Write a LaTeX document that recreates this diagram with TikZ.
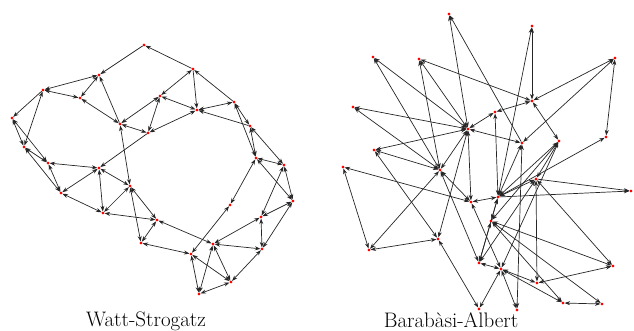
\documentclass[tikz,border=0pt]{standalone}
\usepackage{fontspec}
\usetikzlibrary{arrows.meta}
\begin{document}
\begin{tikzpicture}[x=1pt,y=-1pt,
  dot/.style={circle,fill=red,inner sep=0pt,minimum size=2.8pt},
  lnk/.style={draw=black!85,line width=0.7pt,{Stealth[length=5.5pt,width=4pt]}-{Stealth[length=5.5pt,width=4pt]}},
  one/.style={draw=black!85,line width=0.7pt,-{Stealth[length=5.5pt,width=4pt]}},
  captxt/.style={font=\fontsize{21}{25}\selectfont,inner sep=0pt,anchor=base}]
\useasboundingbox (0,0) rectangle (634,331);
% ---------- Watt-Strogatz nodes ----------
\foreach \n/\x/\y in {A/144/45,B/99/75,C/43/90,D/80/98,E/12/118,F/120/124,G/148/133,H/160/96,
  I/24/147,J/48/163,K/99/168,L/193/69,M/197/110,N/234/102,O/250/126,P/256/158,Q/284/165,
  R/61/193,S/130/186,T/103/213,U/157/220,V/141/243,W/293/201,X/230/205,Y/261/217,Z/213/244,
  AA/262/249,BB/191/254,CC/231/282,DD/199/294}
  {\node[dot] (w\n) at (\x,\y) {};}
% ---------- Barabasi-Albert nodes ----------
\foreach \n/\x/\y in {a/449/14,b/373/57,c/419/59,d/353/107,e/468/129,f/374/150,g/532/26,h/615/58,
  i/532/101,j/495/112,k/559/141,l/522/143,m/606/137,n/343/167,o/440/170,p/471/202,q/491/221,
  r/438/239,s/369/250,t/479/263,u/479/309,v/498/197,w/536/179,x/631/191,y/613/266,z/501/269,
  aa/537/283,bb/563/303,cc/602/304,dd/517/310}
  {\node[dot] (b\n) at (\x,\y) {};}
% ---------- WS edges ----------
\draw[one] (wA) -- (wB);
\draw[one] (wL) -- (wA);
\draw[lnk] (wB) -- (wC);
\draw[lnk] (wB) -- (wD);
\draw[one] (wF) -- (wB);
\draw[lnk] (wC) -- (wD);
\draw[one] (wC) -- (wE);
\draw[lnk] (wC) -- (wI);
\draw[lnk] (wD) -- (wF);
\draw[lnk] (wE) -- (wI);
\draw[lnk] (wE) -- (wJ);
\draw[lnk] (wI) -- (wJ);
\draw[lnk] (wI) -- (wR);
\draw[lnk] (wF) -- (wH);
\draw[lnk] (wF) -- (wG);
\draw[lnk] (wF) -- (wS);
\draw[lnk] (wG) -- (wH);
\draw[lnk] (wG) -- (wM);
\draw[one] (wG) -- (wK);
\draw[lnk] (wH) -- (wL);
\draw[lnk] (wH) -- (wM);
\draw[one] (wL) -- (wM);
\draw[one] (wN) -- (wL);
\draw[lnk] (wM) -- (wN);
\draw[one] (wO) -- (wM);
\draw[lnk] (wN) -- (wO);
\draw[lnk] (wN) -- (wP);
\draw[lnk] (wO) -- (wP);
\draw[lnk] (wO) -- (wQ);
\draw[lnk] (wP) -- (wQ);
\draw[lnk] (wP) -- (wW);
\draw[lnk] (wP) -- (wX);
\draw[lnk] (wQ) -- (wW);
\draw[lnk] (wQ) -- (wY);
\draw[lnk] (wW) -- (wY);
\draw[lnk] (wW) -- (wAA);
\draw[lnk] (wY) -- (wZ);
\draw[lnk] (wY) -- (wAA);
\draw[lnk] (wZ) -- (wAA);
\draw[lnk] (wZ) -- (wDD);
\draw[lnk] (wZ) -- (wCC);
\draw[lnk] (wU) -- (wZ);
\draw[lnk] (wAA) -- (wCC);
\draw[lnk] (wCC) -- (wDD);
\draw[lnk] (wBB) -- (wDD);
\draw[lnk] (wBB) -- (wCC);
\draw[lnk] (wV) -- (wBB);
\draw[lnk] (wX) -- (wBB);
\draw[lnk] (wJ) -- (wK);
\draw[lnk] (wJ) -- (wR);
\draw[lnk] (wK) -- (wR);
\draw[lnk] (wK) -- (wS);
\draw[lnk] (wK) -- (wT);
\draw[lnk] (wR) -- (wT);
\draw[lnk] (wS) -- (wT);
\draw[lnk] (wS) -- (wV);
\draw[lnk] (wS) -- (wU);
\draw[lnk] (wT) -- (wU);
\draw[lnk] (wU) -- (wV);
% ---------- BA edges ----------
\draw[lnk] (be) -- (ba);
\draw[one] (bl) -- (ba);
\draw[lnk] (be) -- (bb);
\draw[one] (bo) -- (bb);
\draw[lnk] (be) -- (bc);
\draw[lnk] (bc) -- (bi);
\draw[lnk] (bc) -- (bo);
\draw[lnk] (be) -- (bd);
\draw[lnk] (bd) -- (bo);
\draw[lnk] (be) -- (bf);
\draw[lnk] (bf) -- (bo);
\draw[lnk] (bf) -- (br);
\draw[lnk] (bg) -- (bi);
\draw[lnk] (bg) -- (bv);
\draw[lnk] (bh) -- (bi);
\draw[lnk] (bh) -- (bl);
\draw[lnk] (bh) -- (bm);
\draw[lnk] (bi) -- (bj);
\draw[lnk] (bi) -- (bk);
\draw[lnk] (be) -- (bj);
\draw[lnk] (bj) -- (bv);
\draw[lnk] (bk) -- (bv);
\draw[lnk] (bk) -- (bq);
\draw[lnk] (bk) -- (bz);
\draw[lnk] (bk) -- (bw);
\draw[lnk] (be) -- (bl);
\draw[lnk] (bl) -- (bdd);
\draw[lnk] (bl) -- (bv);
\draw[lnk] (bm) -- (bv);
\draw[lnk] (bn) -- (bp);
\draw[lnk] (bn) -- (bs);
\draw[lnk] (be) -- (bo);
\draw[lnk] (bs) -- (bo);
\draw[lnk] (bo) -- (bp);
\draw[lnk] (bo) -- (bt);
\draw[lnk] (be) -- (bp);
\draw[lnk] (bv) -- (bp);
\draw[lnk] (bp) -- (bz);
\draw[lnk] (bv) -- (bq);
\draw[lnk] (bq) -- (bt);
\draw[lnk] (bq) -- (by);
\draw[lnk] (bq) -- (bbb);
\draw[lnk] (bq) -- (bcc);
\draw[lnk] (be) -- (br);
\draw[lnk] (bs) -- (br);
\draw[lnk] (br) -- (bu);
\draw[lnk] (bt) -- (bz);
\draw[lnk] (bt) -- (bw);
\draw[lnk] (bv) -- (bt);
\draw[lnk] (bz) -- (bu);
\draw[one] (bv) -- (bx);
\draw[one] (bw) -- (bx);
\draw[lnk] (bw) -- (by);
\draw[lnk] (bw) -- (baa);
\draw[lnk] (bw) -- (bv);
\draw[lnk] (baa) -- (by);
\draw[lnk] (bz) -- (baa);
\draw[lnk] (bz) -- (bbb);
\draw[lnk] (bz) -- (bdd);
\draw[lnk] (bbb) -- (bcc);
% dots on top
\foreach \n in {A,B,C,D,E,F,G,H,I,J,K,L,M,N,O,P,Q,R,S,T,U,V,W,X,Y,Z,AA,BB,CC,DD}
  {\fill[red] (w\n) circle (1.4pt);}
\foreach \n in {a,b,c,d,e,f,g,h,i,j,k,l,m,n,o,p,q,r,s,t,u,v,w,x,y,z,aa,bb,cc,dd}
  {\fill[red] (b\n) circle (1.4pt);}
% captions
\node[captxt] (capws) at (146,326) {Watt-Strogatz};
\node[captxt] (capba) at (451,327) {Barabàsi-Albert};
\end{tikzpicture}
\end{document}
